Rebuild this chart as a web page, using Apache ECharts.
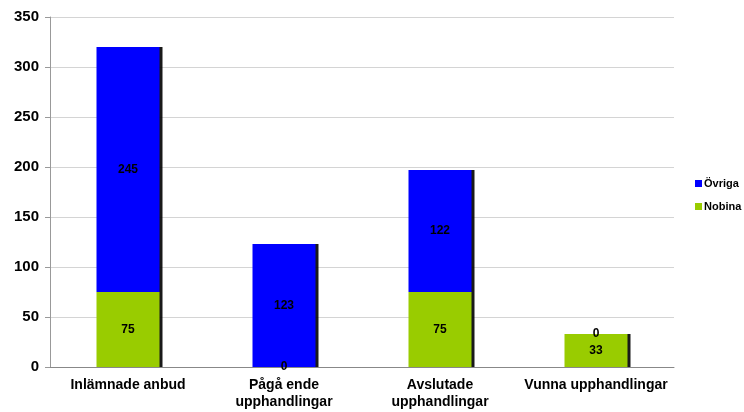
<!DOCTYPE html>
<html>
<head>
<meta charset="utf-8">
<script src="https://cdn.jsdelivr.net/npm/echarts@6/dist/echarts.min.js"></script>
<style>
  html, body { margin: 0; padding: 0; background: #fff; }
  #chart { width: 744px; height: 412px; }
</style>
</head>
<body>
<div id="chart"></div>
<script>
// Upphandlingar: Nobina vs övriga
const categories = ['Inlämnade anbud', 'Pågå ende\nupphandlingar', 'Avslutade\nupphandlingar', 'Vunna upphandlingar'];
const nobina = [75, 0, 75, 33];
const ovriga = [245, 123, 122, 0];
const yTicks = { min: 0, max: 350, step: 50 };

const FONT = '"Liberation Sans", Arial, sans-serif';

const labelStyle = {
  show: true,
  position: 'inside',
  color: '#000',
  fontFamily: FONT,
  fontWeight: 'bold',
  fontSize: 12
};

// dark edge on the right side of each bar
const barShadow = {
  shadowColor: 'rgba(0,0,0,0.9)',
  shadowBlur: 0,
  shadowOffsetX: 3,
  shadowOffsetY: 0
};

const chart = echarts.init(document.getElementById('chart'));
chart.setOption({
  animation: false,
  backgroundColor: '#fff',
  grid: { left: 50, right: 70, top: 17, bottom: 45, containLabel: false },
  legend: {
    orient: 'vertical',
    left: 690,
    top: 173,
    itemWidth: 7,
    itemHeight: 7,
    itemGap: 12,
    icon: 'rect',
    data: ['Övriga', 'Nobina'],
    textStyle: { fontFamily: FONT, fontWeight: 'bold', fontSize: 11, color: '#000', padding: [0, 0, 0, -3] }
  },
  xAxis: {
    type: 'category',
    data: categories,
    axisLine: { lineStyle: { color: '#888', width: 1 } },
    axisTick: { show: false },
    axisLabel: {
      color: '#000',
      fontFamily: FONT,
      fontWeight: 'bold',
      fontSize: 14,
      lineHeight: 17,
      margin: 10,
      interval: 0
    }
  },
  yAxis: {
    type: 'value',
    min: yTicks.min,
    max: yTicks.max,
    interval: yTicks.step,
    axisLine: { show: true, lineStyle: { color: '#999' } },
    axisTick: { show: true, length: 5, lineStyle: { color: '#999' } },
    splitLine: { lineStyle: { color: '#d4d4d4', width: 1 } },
    axisLabel: {
      color: '#000',
      fontFamily: FONT,
      fontWeight: 'bold',
      fontSize: 15,
      margin: 11
    }
  },
  series: [
    {
      name: 'Nobina',
      type: 'bar',
      stack: 'total',
      barWidth: 63,
      data: nobina,
      itemStyle: Object.assign({ color: '#99cc00' }, barShadow),
      label: labelStyle
    },
    {
      name: 'Övriga',
      type: 'bar',
      stack: 'total',
      barWidth: 63,
      data: ovriga,
      itemStyle: Object.assign({ color: '#0000ff' }, barShadow),
      label: labelStyle
    }
  ]
});
</script>
</body>
</html>
